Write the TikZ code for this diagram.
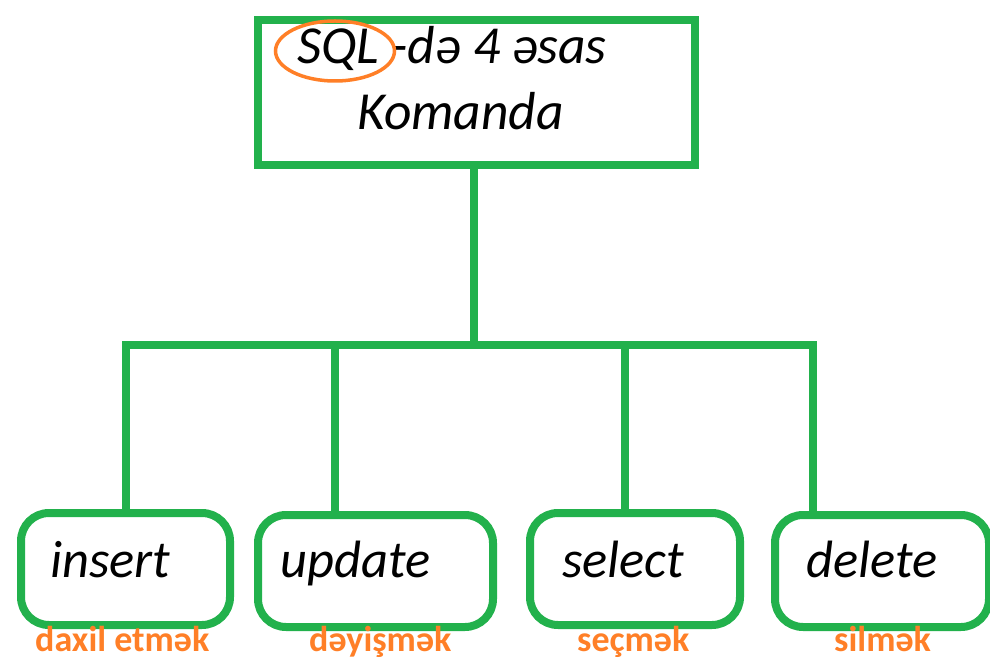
\documentclass[tikz,border=0pt]{standalone}
\usepackage{fontspec}
\setmainfont{Carlito}
\usetikzlibrary{calc,shapes.geometric}
\definecolor{boxgreen}{RGB}{34,177,76}
\definecolor{markorange}{RGB}{255,127,39}
\tikzset{
  frame/.style={draw=boxgreen, line width=8pt},
  cmdbox/.style={frame, rounded corners=28pt, inner sep=0pt, anchor=north west},
  link/.style={draw=boxgreen, line width=8pt},
  cmdtext/.style={inner sep=0pt, anchor=base west, font=\fontsize{52.5}{58}\selectfont\itshape},
  meaning/.style={inner sep=0pt, anchor=base west, text=markorange, font=\fontsize{36}{42}\selectfont\bfseries},
  titletext/.style={inner sep=0pt, anchor=base west, font=\fontsize{53.5}{60}\selectfont\itshape}
}
\begin{document}
\begin{tikzpicture}[x=1pt, y=-1pt]
\useasboundingbox (0,0) rectangle (990,660);

% title box
\node[frame, inner sep=0pt, anchor=north west, minimum width=437pt, minimum height=145pt] (top) at (254,16) {};
\node[titletext] (t1) at (297,64) {SQL -də 4 əsas};
\node[titletext] (t2) at (357,130) {Komanda};
\node[draw=markorange, line width=3.5pt, ellipse, minimum width=119pt, minimum height=60pt, inner sep=0pt] (ring) at (335,51) {};

% command boxes
\node[cmdbox, minimum width=209pt, minimum height=112pt] (ins) at (17,509) {};
\node[cmdbox, minimum width=235pt, minimum height=112pt] (upd) at (254,511) {};
\node[cmdbox, minimum width=210pt, minimum height=112pt] (sel) at (526,509) {};
\node[cmdbox, minimum width=214pt, minimum height=112pt] (del) at (771,511) {};

% connectors
\coordinate (hub) at (474,345);
\coordinate (j1) at (126,345);
\coordinate (j2) at (335,345);
\coordinate (j3) at (625,345);
\coordinate (j4) at (813,345);
\draw[link] (top.south -| hub) -- (hub);
\draw[link, line cap=rect] (j1) -- (j4);
\draw[link] (j1) -- (j1 |- ins.north);
\draw[link] (j2) -- (j2 |- upd.north);
\draw[link] (j3) -- (j3 |- sel.north);
\draw[link] (j4) -- (j4 |- del.north);

% command names
\node[cmdtext] (c1) at (50,577) {insert};
\node[cmdtext] (c2) at (280,577) {update};
\node[cmdtext] (c3) at (562,577) {select};
\node[cmdtext] (c4) at (806,577) {delete};

% meanings
\node[meaning] (m1) at (35,651) {daxil etmək};
\node[meaning] (m2) at (309,651) {dəyişmək};
\node[meaning] (m3) at (577,651) {seçmək};
\node[meaning] (m4) at (834,651) {silmək};
\end{tikzpicture}
\end{document}
